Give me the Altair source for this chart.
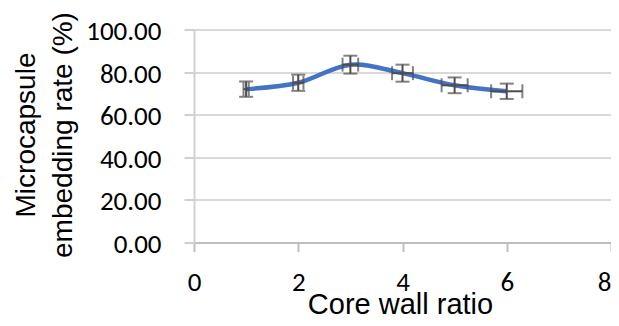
import altair as alt
import pandas as pd

ratio = [1, 2, 3, 4, 5, 6]
rate = [72.0, 75.0, 83.5, 79.5, 73.8, 71.0]
rate_err = [3.6, 3.8, 4.2, 4.0, 3.7, 3.6]
ratio_err = [0.05, 0.10, 0.15, 0.20, 0.25, 0.30]
y_ticks = [0, 20, 40, 60, 80, 100]
x_ticks = [0, 2, 4, 6, 8]

df = pd.DataFrame({"ratio": ratio, "rate": rate, "rerr": rate_err, "xerr": ratio_err})

TICK_FONT = "Carlito, Lato"
TITLE_FONT = "Liberation Sans"
ERR = "#4D4D4D"

xscale = alt.Scale(domain=[0, 8], nice=False, zero=False)
yscale = alt.Scale(domain=[0, 100], nice=False)

xaxis = alt.Axis(
    values=x_ticks, format="d", title="Core wall ratio", grid=False,
    domainColor="#BFBFBF", domainWidth=2, tickColor="#BFBFBF", tickWidth=2, tickSize=9,
    labelFont=TICK_FONT, labelFontSize=27, labelColor="#000000",
    labelBaseline="alphabetic", labelPadding=38.5, labelFlush=False,
    labelAlign=alt.condition("datum.value == 8", alt.value("right"), alt.value("center")),
    titleFont=TITLE_FONT, titleFontSize=29, titleFontWeight="normal", titleColor="#000000",
    titleX=206, titleY=71, titleBaseline="alphabetic", titleAnchor="start", titleAlign="center",
)
yaxis = alt.Axis(
    values=y_ticks, format=".2f", title=["Microcapsule", "embedding rate (%)"],
    grid=True, gridColor="#D9D9D9", gridWidth=2,
    domainColor="#D0D0D0", domainWidth=2, tickColor="#D0D0D0", tickWidth=2, tickSize=10,
    labelFont=TICK_FONT, labelFontSize=27, labelColor="#000000", labelPadding=23,
    labelFlush=False, labelOffset=2,
    titleFont=TITLE_FONT, titleFontSize=28, titleFontWeight="normal", titleColor="#000000",
    titleAngle=-90, titleX=-160, titleY=105, titleBaseline="alphabetic", titleAlign="center",
    titleLineHeight=37,
)

base = alt.Chart(df).transform_calculate(
    ylo="datum.rate - datum.rerr",
    yhi="datum.rate + datum.rerr",
    xlo="datum.ratio - datum.xerr",
    xhi="datum.ratio + datum.xerr",
)

def X(f):
    return alt.X(f, scale=xscale, axis=xaxis)

def Y(f):
    return alt.Y(f, scale=yscale, axis=yaxis)

line = base.mark_line(interpolate="cardinal", color="#4472C4", strokeWidth=4.5).encode(
    x=X("ratio:Q"), y=Y("rate:Q"),
)
yerr_rule = base.mark_rule(color=ERR, strokeWidth=2).encode(
    x=X("ratio:Q"), y=Y("ylo:Q"), y2="yhi:Q",
)
xerr_rule = base.mark_rule(color=ERR, strokeWidth=2).encode(
    x=X("xlo:Q"), x2="xhi:Q", y=Y("rate:Q"),
)
ycap_lo = base.mark_tick(color=ERR, thickness=2, size=14, orient="horizontal").encode(
    x=X("ratio:Q"), y=Y("ylo:Q"),
)
ycap_hi = base.mark_tick(color=ERR, thickness=2, size=14, orient="horizontal").encode(
    x=X("ratio:Q"), y=Y("yhi:Q"),
)
xcap_lo = base.mark_tick(color=ERR, thickness=2, size=14, orient="vertical").encode(
    x=X("xlo:Q"), y=Y("rate:Q"),
)
xcap_hi = base.mark_tick(color=ERR, thickness=2, size=14, orient="vertical").encode(
    x=X("xhi:Q"), y=Y("rate:Q"),
)

chart = alt.layer(line, yerr_rule, xerr_rule, ycap_lo, ycap_hi, xcap_lo, xcap_hi).properties(
    width=417, height=213,
    background="#FFFFFF",
    autosize=alt.AutoSizeParams(type="none"),
    padding={"left": 186, "top": 21.5, "right": 0, "bottom": 75.5},
).configure_view(stroke=None, strokeWidth=0)

chart.save("out.html", embed_options={"renderer": "svg", "actions": False})
